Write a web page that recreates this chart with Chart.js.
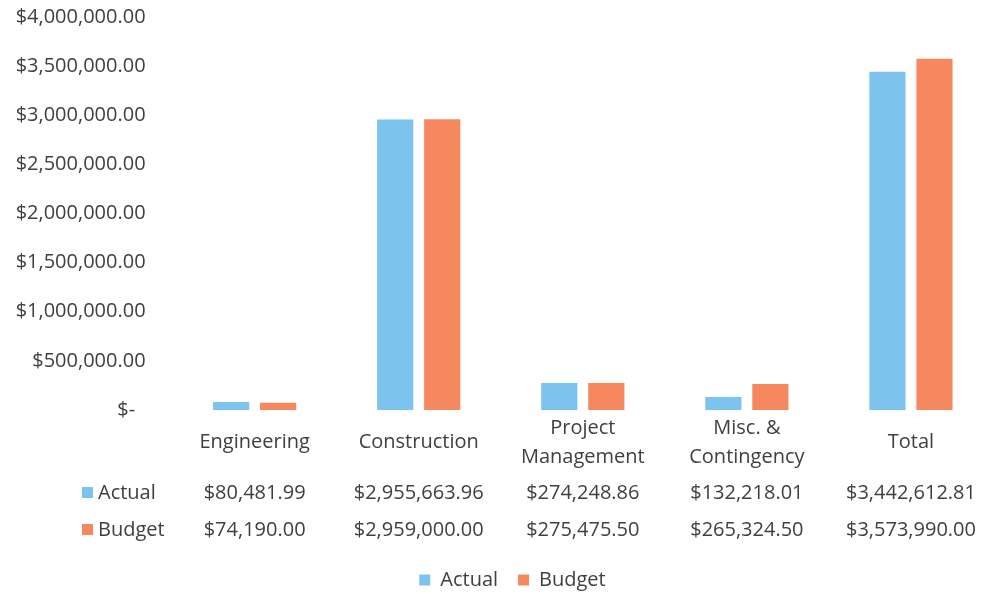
<!DOCTYPE html>
<html>
<head>
<meta charset="utf-8">
<script src="https://cdn.jsdelivr.net/npm/chart.js@4.4.1/dist/chart.umd.min.js"></script>
<style>
  html, body { margin: 0; padding: 0; background: #fff; overflow: hidden; }
  #wrap { width: 993px; height: 600px; }
</style>
</head>
<body>
<div id="wrap"><canvas id="myChart" width="993" height="600"></canvas></div>
<script>
const categories = [["Engineering"], ["Construction"], ["Project", "Management"], ["Misc. &", "Contingency"], ["Total"]];
const actualValues = [80481.99, 2955663.96, 274248.86, 132218.01, 3442612.81];
const budgetValues = [74190.00, 2959000.00, 275475.50, 265324.50, 3573990.00];
const seriesNames = ["Actual", "Budget"];
const barColors = ["#7cc4ee", "#f6885f"];
const yMax = 4000000;
const yStep = 500000;

const textColor = "#404040";
const fontFamily = "'Open Sans', Lato, sans-serif";
const fontSize = 20;

function money(v) {
    if (v === 0) return "$-  ";
    return "$" + v.toLocaleString("en-US", {minimumFractionDigits: 2, maximumFractionDigits: 2});
}

// data table under the axis labels
const dataTable = {
    id: "dataTable",
    afterLayout(chart) {
        // legend sits a little right of centre in the original
        chart.legend.left += 12;
        chart.legend.right += 12;
    },
    afterDraw(chart) {
        const ctx = chart.ctx;
        const x = chart.scales.x;
        const rows = [actualValues, budgetValues];
        const rowY = [x.top + 83, x.top + 120];
        ctx.save();
        ctx.font = fontSize + "px " + fontFamily;
        ctx.textBaseline = "middle";
        rows.forEach(function (vals, r) {
            ctx.fillStyle = barColors[r];
            ctx.fillRect(82, rowY[r] - 6, 11, 11);
            ctx.fillStyle = textColor;
            ctx.textAlign = "left";
            ctx.fillText(seriesNames[r], 98, rowY[r]);
            ctx.textAlign = "center";
            vals.forEach(function (v, i) {
                ctx.fillText(money(v), x.getPixelForValue(i), rowY[r]);
            });
        });
        ctx.restore();
    }
};

Chart.defaults.font.family = fontFamily;
Chart.defaults.font.size = fontSize;
Chart.defaults.color = textColor;

new Chart("myChart", {
    type: "bar",
    data: {
        labels: categories,
        datasets: [{
            label: seriesNames[0],
            data: actualValues,
            backgroundColor: barColors[0]
        }, {
            label: seriesNames[1],
            data: budgetValues,
            backgroundColor: barColors[1]
        }]
    },
    options: {
        responsive: false,
        animation: false,
        categoryPercentage: 0.573,
        barPercentage: 0.77,
        layout: { padding: { top: 17, left: 8, right: 0, bottom: 0 } },
        plugins: {
            tooltip: { enabled: false },
            legend: {
                position: "bottom",
                labels: { boxWidth: 11, boxHeight: 11, padding: 20, color: textColor }
            }
        },
        scales: {
            x: {
                grid: { display: false, drawTicks: false },
                border: { display: false },
                ticks: {
                    padding: 18,
                    crossAlign: "center",
                    maxRotation: 0,
                    autoSkip: false,
                    font: { size: fontSize, lineHeight: 1.45 }
                },
                afterFit(scale) { scale.height = 140; }
            },
            y: {
                min: 0,
                max: yMax,
                grid: { display: false, drawTicks: false },
                border: { display: false },
                ticks: {
                    stepSize: yStep,
                    padding: 27,
                    callback: function (v) { return money(v); }
                },
                afterFit(scale) {
                    scale.width = 164.6;
                    scale.paddingTop = 0;
                    scale.paddingBottom = 0;
                }
            }
        }
    },
    plugins: [dataTable]
});
</script>
</body>
</html>
